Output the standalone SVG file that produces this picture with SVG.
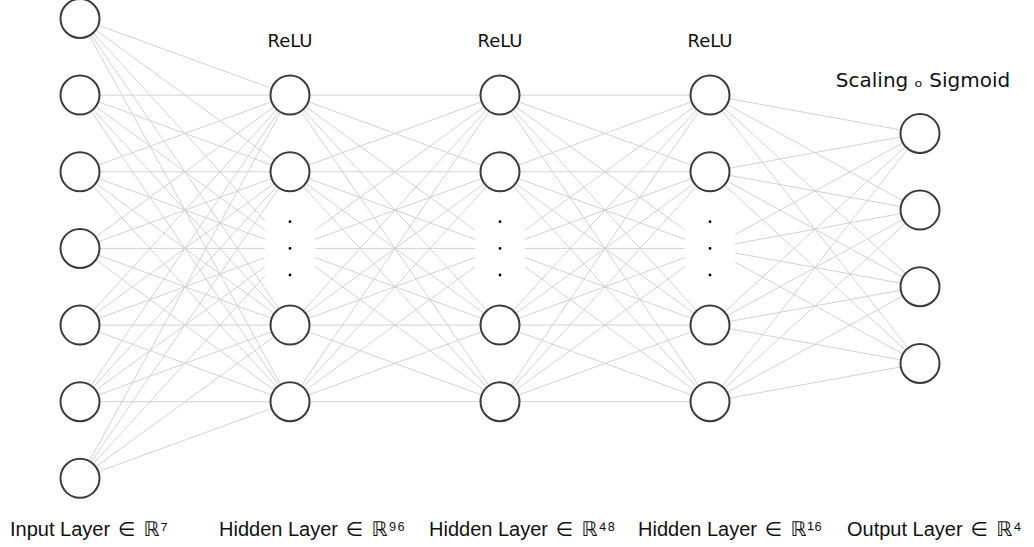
<svg xmlns="http://www.w3.org/2000/svg" width="1034" height="547" viewBox="0 0 1034 547">
<style>
.edge{fill:none;stroke:#d2d2d2;stroke-width:1}
.node{fill:#fff;stroke:#3a3a44;stroke-width:2}
.mask{fill:#fff;stroke:none}
.dot{fill:#000}
.act{font-family:"DejaVu Sans",sans-serif;font-size:18px;text-anchor:middle;fill:#111}
.lbl{font-family:"Liberation Sans","DejaVu Sans",sans-serif;font-size:20px;fill:#111}
</style>
<rect width="1034" height="547" fill="#fff"/>
<g id="connectors">
<path class="edge" d="M80 18.5L290 95.1M80 18.5L290 171.8M80 18.5L290 248.4M80 18.5L290 325.1M80 18.5L290 401.7
M80 95.1L290 95.1M80 95.1L290 171.8M80 95.1L290 248.4M80 95.1L290 325.1M80 95.1L290 401.7
M80 171.8L290 95.1M80 171.8L290 171.8M80 171.8L290 248.4M80 171.8L290 325.1M80 171.8L290 401.7
M80 248.4L290 95.1M80 248.4L290 171.8M80 248.4L290 248.4M80 248.4L290 325.1M80 248.4L290 401.7
M80 325.1L290 95.1M80 325.1L290 171.8M80 325.1L290 248.4M80 325.1L290 325.1M80 325.1L290 401.7
M80 401.7L290 95.1M80 401.7L290 171.8M80 401.7L290 248.4M80 401.7L290 325.1M80 401.7L290 401.7
M80 478.3L290 95.1M80 478.3L290 171.8M80 478.3L290 248.4M80 478.3L290 325.1M80 478.3L290 401.7"/>
<path class="edge" d="M290 95.1L500 95.1M290 95.1L500 171.8M290 95.1L500 248.4M290 95.1L500 325.1M290 95.1L500 401.7
M290 171.8L500 95.1M290 171.8L500 171.8M290 171.8L500 248.4M290 171.8L500 325.1M290 171.8L500 401.7
M290 248.4L500 95.1M290 248.4L500 171.8M290 248.4L500 248.4M290 248.4L500 325.1M290 248.4L500 401.7
M290 325.1L500 95.1M290 325.1L500 171.8M290 325.1L500 248.4M290 325.1L500 325.1M290 325.1L500 401.7
M290 401.7L500 95.1M290 401.7L500 171.8M290 401.7L500 248.4M290 401.7L500 325.1M290 401.7L500 401.7"/>
<path class="edge" d="M500 95.1L710 95.1M500 95.1L710 171.8M500 95.1L710 248.4M500 95.1L710 325.1M500 95.1L710 401.7
M500 171.8L710 95.1M500 171.8L710 171.8M500 171.8L710 248.4M500 171.8L710 325.1M500 171.8L710 401.7
M500 248.4L710 95.1M500 248.4L710 171.8M500 248.4L710 248.4M500 248.4L710 325.1M500 248.4L710 401.7
M500 325.1L710 95.1M500 325.1L710 171.8M500 325.1L710 248.4M500 325.1L710 325.1M500 325.1L710 401.7
M500 401.7L710 95.1M500 401.7L710 171.8M500 401.7L710 248.4M500 401.7L710 325.1M500 401.7L710 401.7"/>
<path class="edge" d="M710 95.1L920 133.4M710 95.1L920 210.1M710 95.1L920 286.7M710 95.1L920 363.4
M710 171.8L920 133.4M710 171.8L920 210.1M710 171.8L920 286.7M710 171.8L920 363.4
M710 248.4L920 133.4M710 248.4L920 210.1M710 248.4L920 286.7M710 248.4L920 363.4
M710 325.1L920 133.4M710 325.1L920 210.1M710 325.1L920 286.7M710 325.1L920 363.4
M710 401.7L920 133.4M710 401.7L920 210.1M710 401.7L920 286.7M710 401.7L920 363.4"/>
</g>
<g id="input-layer">
<circle class="node" cx="80" cy="18.5" r="19.5"/>
<circle class="node" cx="80" cy="95.1" r="19.5"/>
<circle class="node" cx="80" cy="171.8" r="19.5"/>
<circle class="node" cx="80" cy="248.4" r="19.5"/>
<circle class="node" cx="80" cy="325.1" r="19.5"/>
<circle class="node" cx="80" cy="401.7" r="19.5"/>
<circle class="node" cx="80" cy="478.3" r="19.5"/>
<text class="lbl" x="10" y="535.5">Input Layer <tspan dx="2">∈</tspan> <tspan dx="3">ℝ</tspan><tspan dx="1">⁷</tspan></text>
</g>
<g id="hidden-layer-1">
<text class="act" x="290" y="46.5">ReLU</text>
<circle class="node" cx="290" cy="95.1" r="19.5"/>
<circle class="node" cx="290" cy="171.8" r="19.5"/>
<rect class="mask" x="265" y="218" width="50" height="61"/>
<circle class="dot" cx="290" cy="221.7" r="1.4"/>
<circle class="dot" cx="290" cy="248.4" r="1.4"/>
<circle class="dot" cx="290" cy="275" r="1.4"/>
<circle class="node" cx="290" cy="325.1" r="19.5"/>
<circle class="node" cx="290" cy="401.7" r="19.5"/>
<text class="lbl" x="219" y="535.5">Hidden Layer <tspan dx="2">∈</tspan> <tspan dx="3">ℝ</tspan><tspan dx="1">⁹⁶</tspan></text>
</g>
<g id="hidden-layer-2">
<text class="act" x="500" y="46.5">ReLU</text>
<circle class="node" cx="500" cy="95.1" r="19.5"/>
<circle class="node" cx="500" cy="171.8" r="19.5"/>
<rect class="mask" x="475" y="218" width="50" height="61"/>
<circle class="dot" cx="500" cy="221.7" r="1.4"/>
<circle class="dot" cx="500" cy="248.4" r="1.4"/>
<circle class="dot" cx="500" cy="275" r="1.4"/>
<circle class="node" cx="500" cy="325.1" r="19.5"/>
<circle class="node" cx="500" cy="401.7" r="19.5"/>
<text class="lbl" x="429" y="535.5">Hidden Layer <tspan dx="2">∈</tspan> <tspan dx="3">ℝ</tspan><tspan dx="1">⁴⁸</tspan></text>
</g>
<g id="hidden-layer-3">
<text class="act" x="710" y="46.5">ReLU</text>
<circle class="node" cx="710" cy="95.1" r="19.5"/>
<circle class="node" cx="710" cy="171.8" r="19.5"/>
<rect class="mask" x="685" y="218" width="50" height="61"/>
<circle class="dot" cx="710" cy="221.7" r="1.4"/>
<circle class="dot" cx="710" cy="248.4" r="1.4"/>
<circle class="dot" cx="710" cy="275" r="1.4"/>
<circle class="node" cx="710" cy="325.1" r="19.5"/>
<circle class="node" cx="710" cy="401.7" r="19.5"/>
<text class="lbl" x="638" y="535.5">Hidden Layer <tspan dx="2">∈</tspan> <tspan dx="3">ℝ</tspan><tspan dx="1">¹⁶</tspan></text>
</g>
<g id="output-layer">
<text class="act" x="923" y="86.5" style="font-size:20px">Scaling ₒ Sigmoid</text>
<circle class="node" cx="920" cy="133.4" r="19.5"/>
<circle class="node" cx="920" cy="210.1" r="19.5"/>
<circle class="node" cx="920" cy="286.7" r="19.5"/>
<circle class="node" cx="920" cy="363.4" r="19.5"/>
<text class="lbl" x="847" y="535.5">Output Layer <tspan dx="2">∈</tspan> <tspan dx="3">ℝ</tspan><tspan dx="1">⁴</tspan></text>
</g>
</svg>
